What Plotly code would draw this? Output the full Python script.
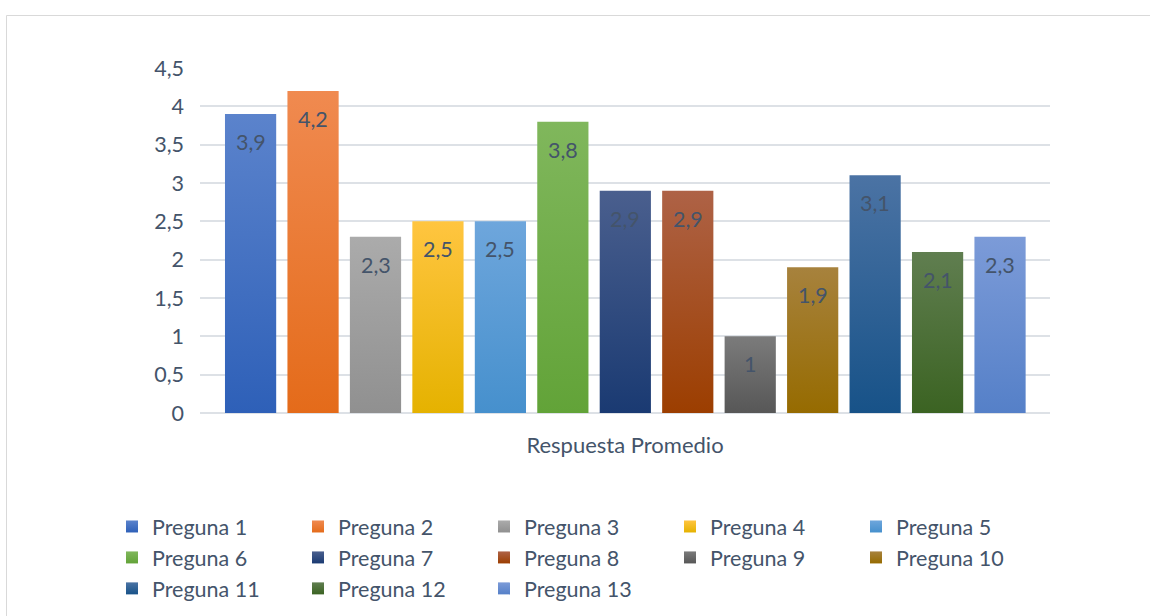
import json
import plotly.graph_objects as go

# Average answer per question
preguntas = ["Preguna 1", "Preguna 2", "Preguna 3", "Preguna 4", "Preguna 5",
             "Preguna 6", "Preguna 7", "Preguna 8", "Preguna 9", "Preguna 10",
             "Preguna 11", "Preguna 12", "Preguna 13"]
promedios = [3.9, 4.2, 2.3, 2.5, 2.5, 3.8, 2.9, 2.9, 1.0, 1.9, 3.1, 2.1, 2.3]
categoria = "Respuesta Promedio"
y_ticks = [0, 0.5, 1, 1.5, 2, 2.5, 3, 3.5, 4, 4.5]

# Gradient colours for each bar: (top, bottom)
gradientes = [
    ("#5B83CC", "#2E60B8"), ("#F08A50", "#E46B1A"), ("#ABABAB", "#909090"),
    ("#FFC540", "#E5B200"), ("#6EA6DC", "#4690CD"), ("#80B75C", "#62A338"),
    ("#4A5F8E", "#1A3A72"), ("#AE6246", "#9C3E00"), ("#7B7B7B", "#575757"),
    ("#A7823D", "#966B00"), ("#4B73A4", "#175288"), ("#607E50", "#3B6322"),
    ("#7C9BD8", "#5580C8"),
]

FONT = "Lato"
FS = 21.5
TXT = "#44546A"
GRID = "#DDE1E6"

W, H = 1150, 616
ML, MR, MT, MB = 200, 100, 68, 203
PW, PH = W - ML - MR, H - MT - MB


def px_x(p):
    return (p - ML) / PW


def px_y(p):
    return (H - MB - p) / PH


fig = go.Figure()
for i, (nombre, valor) in enumerate(zip(preguntas, promedios)):
    fig.add_trace(go.Bar(
        x=[i], y=[valor], name=nombre, width=0.82,
        marker=dict(color=gradientes[i][1], line=dict(width=0)),
        hovertemplate=f"{nombre}<br>{categoria}: %{{y}}<extra></extra>",
    ))
    fig.add_annotation(
        x=i, y=valor, yshift=-28, showarrow=False,
        text=f"{valor:g}".replace(".", ","),
        font=dict(family=FONT, size=FS, color=TXT),
    )

# Chart frame
fig.add_shape(type="rect", xref="paper", yref="paper",
              x0=px_x(6.5), x1=px_x(1170), y0=px_y(15.5), y1=px_y(640),
              line=dict(color="#D9D9D9", width=1), fillcolor="rgba(0,0,0,0)",
              layer="below")

fig.update_layout(
    width=W, height=H,
    margin=dict(l=ML, r=MR, t=MT, b=MB, autoexpand=False),
    paper_bgcolor="white", plot_bgcolor="white",
    separators=", ",
    barmode="overlay",
    font=dict(family=FONT, size=FS, color=TXT),
    showlegend=True,
    legend=dict(
        orientation="h", x=px_x(112), y=px_y(506), xanchor="left", yanchor="top",
        entrywidth=141, entrywidthmode="pixels", itemwidth=30,
        font=dict(family=FONT, size=FS, color=TXT),
        traceorder="normal", tracegroupgap=0,
    ),
    xaxis=dict(
        range=[-0.81, 12.8], showticklabels=False, ticks="", showgrid=False,
        zeroline=False, showline=False, fixedrange=True,
        title=dict(text=categoria, standoff=24,
                   font=dict(family=FONT, size=FS + 0.5, color=TXT)),
    ),
    yaxis=dict(
        range=[0, 4.5], tickvals=y_ticks, showgrid=True, gridcolor=GRID,
        gridwidth=1.5, zeroline=True, zerolinecolor=GRID, zerolinewidth=1.5,
        showline=False, ticks="", ticklabelstandoff=15, fixedrange=True,
        tickfont=dict(family=FONT, size=FS, color=TXT),
    ),
)

# Vertical gradient fills for bars and legend swatches
post = """
(function(){
  var gd = document.getElementById('{plot_id}');
  var grads = %s;
  function paint(){
    var svg = gd.querySelector('svg.main-svg');
    if(!svg) return;
    var ns = 'http://www.w3.org/2000/svg';
    var defs = svg.querySelector('defs');
    if(!defs){ defs = document.createElementNS(ns,'defs'); svg.insertBefore(defs, svg.firstChild); }
    grads.forEach(function(g, i){
      var id = 'bargrad' + i;
      if(document.getElementById(id)) return;
      var lg = document.createElementNS(ns,'linearGradient');
      lg.setAttribute('id', id);
      lg.setAttribute('x1','0'); lg.setAttribute('y1','0');
      lg.setAttribute('x2','0'); lg.setAttribute('y2','1');
      [[0,g[0]],[1,g[1]]].forEach(function(s){
        var st = document.createElementNS(ns,'stop');
        st.setAttribute('offset', s[0]);
        st.setAttribute('stop-color', s[1]);
        lg.appendChild(st);
      });
      defs.appendChild(lg);
    });
    function idx(el, k){
      try { return el.__data__[0].trace.index; } catch(e) { return k; }
    }
    gd.querySelectorAll('.barlayer .trace').forEach(function(tr, k){
      var i = idx(tr, k);
      tr.querySelectorAll('path').forEach(function(p){ p.style.fill = 'url(#bargrad' + i + ')'; });
    });
    gd.querySelectorAll('.legend .traces').forEach(function(tr, k){
      var i = idx(tr, k);
      tr.querySelectorAll('.legendpoints path').forEach(function(p){ p.style.fill = 'url(#bargrad' + i + ')'; });
    });
  }
  paint();
  gd.on('plotly_afterplot', paint);
})();
""" % json.dumps(gradientes)

fig.write_html("out.html", post_script=post, config={"displayModeBar": False})
